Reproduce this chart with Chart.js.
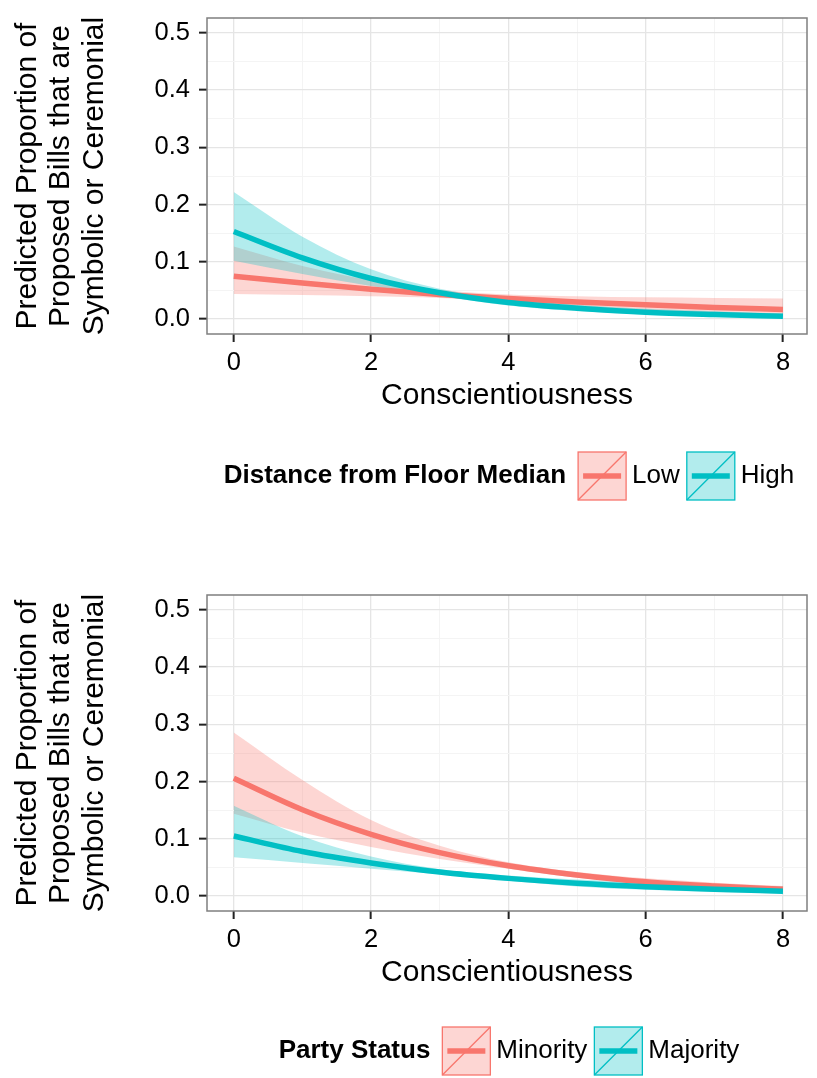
<!DOCTYPE html>
<html>
<head>
<meta charset="utf-8">
<script src="https://cdn.jsdelivr.net/npm/chart.js@4.4.0/dist/chart.umd.min.js"></script>
<style>
body { margin: 0; background: #fff; }
#p1 { position: absolute; left: 0; top: 0; width: 817px; height: 505px; }
#p2 { position: absolute; left: 0; top: 577px; width: 817px; height: 501px; }
</style>
</head>
<body>
<div id="p1"><canvas id="c1" width="817" height="505"></canvas></div>
<div id="p2"><canvas id="c2" width="817" height="501"></canvas></div>
<script>
// valores
var conscientiousness = [0, 1, 2, 3, 4, 5, 6, 7, 8];

// panel 1: Distance from Floor Median
var lowFit   = [0.075, 0.063, 0.052, 0.043, 0.036, 0.030, 0.025, 0.0205, 0.017];
var lowUpper = [0.127, 0.093, 0.068, 0.051, 0.043, 0.040, 0.038, 0.037, 0.036];
var lowLower = [0.044, 0.042, 0.040, 0.037, 0.030, 0.022, 0.016, 0.011, 0.008];
var highFit   = [0.153, 0.107, 0.071, 0.046, 0.029, 0.019, 0.012, 0.008, 0.005];
var highUpper = [0.222, 0.144, 0.087, 0.053, 0.035, 0.025, 0.018, 0.0136, 0.0097];
var highLower = [0.102, 0.079, 0.058, 0.040, 0.024, 0.014, 0.008, 0.0047, 0.0026];

// panel 2: Party Status
var minorityFit   = [0.206, 0.151, 0.108, 0.076, 0.053, 0.037, 0.025, 0.0175, 0.012];
var minorityUpper = [0.286, 0.203, 0.133, 0.088, 0.059, 0.042, 0.031, 0.0234, 0.0176];
var minorityLower = [0.144, 0.111, 0.086, 0.065, 0.048, 0.032, 0.021, 0.013, 0.0081];
var majorityFit   = [0.105, 0.078, 0.058, 0.042, 0.031, 0.0226, 0.0165, 0.012, 0.0087];
var majorityUpper = [0.158, 0.1045, 0.069, 0.047, 0.036, 0.029, 0.0245, 0.0204, 0.017];
var majorityLower = [0.068, 0.058, 0.048, 0.038, 0.027, 0.017, 0.011, 0.007, 0.0044];

// ticks
var xTicks  = [0, 1, 2, 3, 4, 5, 6, 7, 8];
var xLabels = ['0', '', '2', '', '4', '', '6', '', '8'];
var yTicks  = [0, 0.05, 0.1, 0.15, 0.2, 0.25, 0.3, 0.35, 0.4, 0.45, 0.5];
var yLabels = ['0.0', '', '0.1', '', '0.2', '', '0.3', '', '0.4', '', '0.5'];

var yTitle = ['Predicted Proportion of', 'Proposed Bills that are', 'Symbolic or Ceremonial'];
var xTitle = 'Conscientiousness';

var rojo = '#F8766D';
var turquesa = '#00BFC4';
var rojoBanda = 'rgba(248,118,109,0.3)';
var turqBanda = 'rgba(0,191,196,0.3)';
var fuente = '"Liberation Sans", Arial, Helvetica, sans-serif';

function puntos(vals) {
  return conscientiousness.map(function (x, i) { return { x: x, y: vals[i] }; });
}

var borde = {
  id: 'borde',
  afterDraw: function (chart) {
    var a = chart.chartArea, ctx = chart.ctx;
    ctx.save();
    ctx.strokeStyle = '#7F7F7F';
    ctx.lineWidth = 1.5;
    ctx.strokeRect(a.left, a.top, a.right - a.left, a.bottom - a.top);
    ctx.restore();
  }
};

var leyenda = {
  id: 'leyenda',
  afterDraw: function (chart) {
    var o = chart.options.plugins.leyenda;
    var ctx = chart.ctx;
    var key = 48;
    ctx.save();
    ctx.font = 'bold 26px ' + fuente;
    var wt = ctx.measureText(o.title).width;
    ctx.font = '26px ' + fuente;
    var w0 = ctx.measureText(o.labels[0]).width;
    var w1 = ctx.measureText(o.labels[1]).width;
    var total = wt + 12 + key + 6 + w0 + 7 + key + 6 + w1;
    var x = (chart.chartArea.left + chart.chartArea.right) / 2 - total / 2 + 2;
    var y = o.y;
    ctx.fillStyle = '#000';
    ctx.textBaseline = 'middle';
    ctx.textAlign = 'left';
    ctx.font = 'bold 26px ' + fuente;
    ctx.fillText(o.title, x, y);
    x += wt + 12;
    ctx.font = '26px ' + fuente;
    var anchos = [w0, w1];
    for (var i = 0; i < 2; i++) {
      var top = y - key / 2;
      ctx.fillStyle = o.fills[i];
      ctx.fillRect(x, top, key, key);
      ctx.strokeStyle = o.colors[i];
      ctx.lineWidth = 1.3;
      ctx.strokeRect(x, top, key, key);
      ctx.beginPath();
      ctx.moveTo(x, top + key);
      ctx.lineTo(x + key, top);
      ctx.stroke();
      ctx.lineWidth = 5.5;
      ctx.beginPath();
      ctx.moveTo(x + 5, y);
      ctx.lineTo(x + key - 5, y);
      ctx.stroke();
      x += key + 6;
      ctx.fillStyle = '#000';
      ctx.fillText(o.labels[i], x, y);
      x += anchos[i] + 7;
    }
    ctx.restore();
  }
};

function crearGrafica(id, alto, series, ley) {
  var linea = function (vals, color, orden) {
    return { data: puntos(vals), borderColor: color, borderWidth: 5.5, pointRadius: 0,
             fill: false, cubicInterpolationMode: 'monotone', order: orden };
  };
  var banda = function (vals, color, orden, destino) {
    return { data: puntos(vals), borderWidth: 0, borderColor: 'rgba(0,0,0,0)', pointRadius: 0,
             backgroundColor: color, fill: destino === undefined ? false : { target: destino },
             cubicInterpolationMode: 'monotone', order: orden };
  };
  return new Chart(document.getElementById(id), {
    type: 'line',
    data: {
      datasets: [
        linea(series.fit2, turquesa, -2),
        linea(series.fit1, rojo, -1),
        banda(series.low1, rojoBanda, 3),
        banda(series.up1, rojoBanda, 3, 2),
        banda(series.low2, turqBanda, 2),
        banda(series.up2, turqBanda, 2, 4)
      ]
    },
    options: {
      responsive: false,
      animation: false,
      layout: { padding: { left: 0, right: 10, top: 18, bottom: alto - 420 } },
      plugins: { legend: { display: false }, tooltip: { enabled: false }, leyenda: ley },
      scales: {
        x: {
          type: 'linear', min: -0.39, max: 8.35,
          afterBuildTicks: function (s) { s.ticks = xTicks.map(function (v) { return { value: v }; }); },
          afterFit: function (s) { s.height = 86; s.paddingLeft = 0; s.paddingRight = 0; },
          border: { display: false },
          grid: {
            color: function (c) { return xLabels[c.index] ? '#E5E5E5' : '#F4F4F4'; },
            lineWidth: function (c) { return xLabels[c.index] ? 1.3 : 1; },
            tickColor: function (c) { return xLabels[c.index] ? '#222' : 'rgba(0,0,0,0)'; },
            tickWidth: 2, tickLength: 8
          },
          ticks: {
            autoSkip: false, maxRotation: 0, padding: 6, color: '#000',
            font: { family: fuente, size: 25.5 },
            callback: function (v, i) { return xLabels[i]; }
          },
          title: { display: true, text: xTitle, color: '#000',
                   font: { family: fuente, size: 30, lineHeight: 1.11 },
                   padding: { top: 0, bottom: 8 } }
        },
        y: {
          type: 'linear', min: -0.026, max: 0.526,
          afterBuildTicks: function (s) { s.ticks = yTicks.map(function (v) { return { value: v }; }); },
          afterFit: function (s) { s.width = 207; s.paddingTop = 0; s.paddingBottom = 0; },
          border: { display: false },
          grid: {
            color: function (c) { return yLabels[c.index] ? '#E5E5E5' : '#F4F4F4'; },
            lineWidth: function (c) { return yLabels[c.index] ? 1.3 : 1; },
            tickColor: function (c) { return yLabels[c.index] ? '#222' : 'rgba(0,0,0,0)'; },
            tickWidth: 2, tickLength: 8
          },
          ticks: {
            autoSkip: false, padding: 9, color: '#000',
            font: { family: fuente, size: 25.5 },
            callback: function (v, i) { return yLabels[i]; }
          },
          title: { display: true, text: yTitle, color: '#000',
                   font: { family: fuente, size: 30, lineHeight: 1.11 },
                   padding: { top: 11, bottom: 0 } }
        }
      }
    },
    plugins: [borde, leyenda]
  });
}

crearGrafica('c1', 505, {
  fit1: lowFit, up1: lowUpper, low1: lowLower,
  fit2: highFit, up2: highUpper, low2: highLower
}, { title: 'Distance from Floor Median', labels: ['Low', 'High'],
     colors: [rojo, turquesa], fills: [rojoBanda, turqBanda], y: 476 });

crearGrafica('c2', 501, {
  fit1: minorityFit, up1: minorityUpper, low1: minorityLower,
  fit2: majorityFit, up2: majorityUpper, low2: majorityLower
}, { title: 'Party Status', labels: ['Minority', 'Majority'],
     colors: [rojo, turquesa], fills: [rojoBanda, turqBanda], y: 474 });
</script>
</body>
</html>
